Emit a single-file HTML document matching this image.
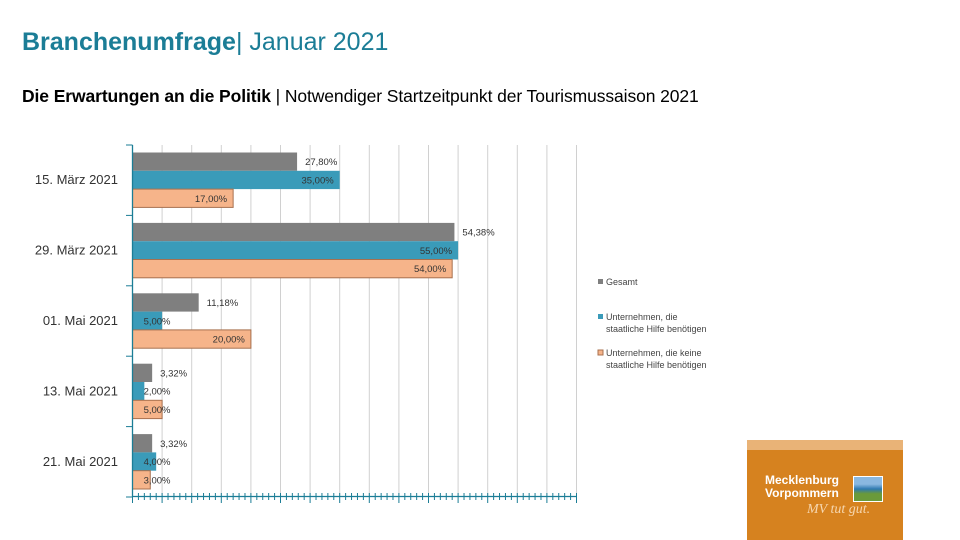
<!DOCTYPE html>
<html><head><meta charset="utf-8"><style>
body{margin:0;width:960px;height:540px;background:#fff;overflow:hidden;font-family:"Liberation Sans",sans-serif;position:relative}
.t{position:absolute;white-space:nowrap}
</style></head><body>
<div class="t" style="left:22px;top:28px;font-size:25px;color:#1b7d96"><b>Branchenumfrage</b>| Januar 2021</div>
<div class="t" style="left:22px;top:86px;font-size:17.5px;color:#000;letter-spacing:-0.1px"><b>Die Erwartungen an die Politik</b> | Notwendiger Startzeitpunkt der Tourismussaison 2021</div>
<svg id="c" width="960" height="540" style="position:absolute;left:0;top:0"></svg>
<div style="position:absolute;left:747px;top:440px;width:156px;height:100px;background:#d6821f">
<div style="position:absolute;left:0;top:0;width:156px;height:10px;background:#e9b377"></div>
<div class="t" style="left:18px;top:34px;color:#fff;font-weight:bold;font-size:12px;line-height:13px">Mecklenburg<br>Vorpommern</div>
<div style="position:absolute;left:106px;top:36px;width:28px;height:24px;background:linear-gradient(#8ab8e0 30%,#2e7ab0 50%,#6a9a3a 70%);border:1px solid #fff"></div>
<div class="t" style="left:60px;top:62px;color:#f6d7b0;font-style:italic;font-size:14px;font-family:'Liberation Serif',serif">MV tut gut.</div>
</div>
<script>
const categories=["15. März 2021","29. März 2021","01. Mai 2021","13. Mai 2021","21. Mai 2021"];
const gesamt=[27.80,54.38,11.18,3.32,3.32];
const hilfe=[35.00,55.00,5.00,2.00,4.00];
const keineHilfe=[17.00,54.00,20.00,5.00,3.00];
const gesamtLabels=["27,80%","54,38%","11,18%","3,32%","3,32%"];
const seriesNames=["Gesamt","Unternehmen, die|staatliche Hilfe benötigen","Unternehmen, die keine|staatliche Hilfe benötigen"];
const svg=document.getElementById('c');const NS='http://www.w3.org/2000/svg';
const x0=132.5,pxPer=5.92,yTop=145,band=70.4,bh=18.3;
const xs=v=>x0+v*pxPer;
function el(t,a,p){const e=document.createElementNS(NS,t);for(const k in a)e.setAttribute(k,a[k]);(p||svg).appendChild(e);return e;}
const fmt=v=>v.toFixed(2).replace('.',',')+'%';
for(let i=1;i<=15;i++){const g=el('line',{x1:xs(i*5),x2:xs(i*5),y1:yTop,y2:496,stroke:'#d0d0d0','stroke-width':1});}
const cols=['#7f7f7f','#3a9bb9','#f6b48a'];const data=[gesamt,hilfe,keineHilfe];
categories.forEach((c,i)=>{
 const gy=yTop+i*band+7.5;
 data.forEach((s,j)=>{
  const y=gy+j*bh,w=s[i]*pxPer;
  const r=el('rect',{x:x0,y:y,width:w,height:bh,fill:cols[j],stroke:j==2?'#a8704e':'none','stroke-width':1});
  
  const lab=j==0?gesamtLabels[i]:fmt(s[i]);
  const t=el('text',{y:y+bh/2+3.5,'font-size':9.5,fill:'#333','font-family':'Liberation Sans, sans-serif'});
  if(j==0){t.setAttribute('x',xs(s[i])+8);}else{t.setAttribute('x',Math.max(xs(s[i])-6,x0+38));t.setAttribute('text-anchor','end');}
  t.textContent=lab;
 });
 const ct=el('text',{x:118,y:yTop+i*band+band/2+4,'text-anchor':'end','font-size':13,fill:'#333'});
 ct.textContent=c;
}
);
for(let i=0;i<=5;i++){const y=yTop+i*band;el('line',{x1:126,x2:x0,y1:y,y2:y,stroke:'#1b7d96'});}
const ax=el('line',{x1:x0,x2:x0,y1:yTop,y2:496.5,stroke:'#1b7d96','stroke-width':1.3});
const xa=el('line',{x1:x0,x2:577,y1:496.5,y2:496.5,stroke:'#1b7d96','stroke-width':1.3});
for(let v=0;v<=75;v++){const x=xs(v);el('line',{x1:x,x2:x,y1:493,y2:v%5==0?503:500,stroke:'#1b7d96'});}
const ly=[283,318,354];
seriesNames.forEach((n,j)=>{
 const sq=el('rect',{x:598,y:ly[j]-4,width:5,height:5,fill:cols[j],stroke:j==2?'#a8704e':'none'});
 
 n.split('|').forEach((p,k)=>{const t=el('text',{x:606,y:ly[j]+2+k*12,'font-size':9,fill:'#444'});t.textContent=p;});
});
</script>
</body></html>
